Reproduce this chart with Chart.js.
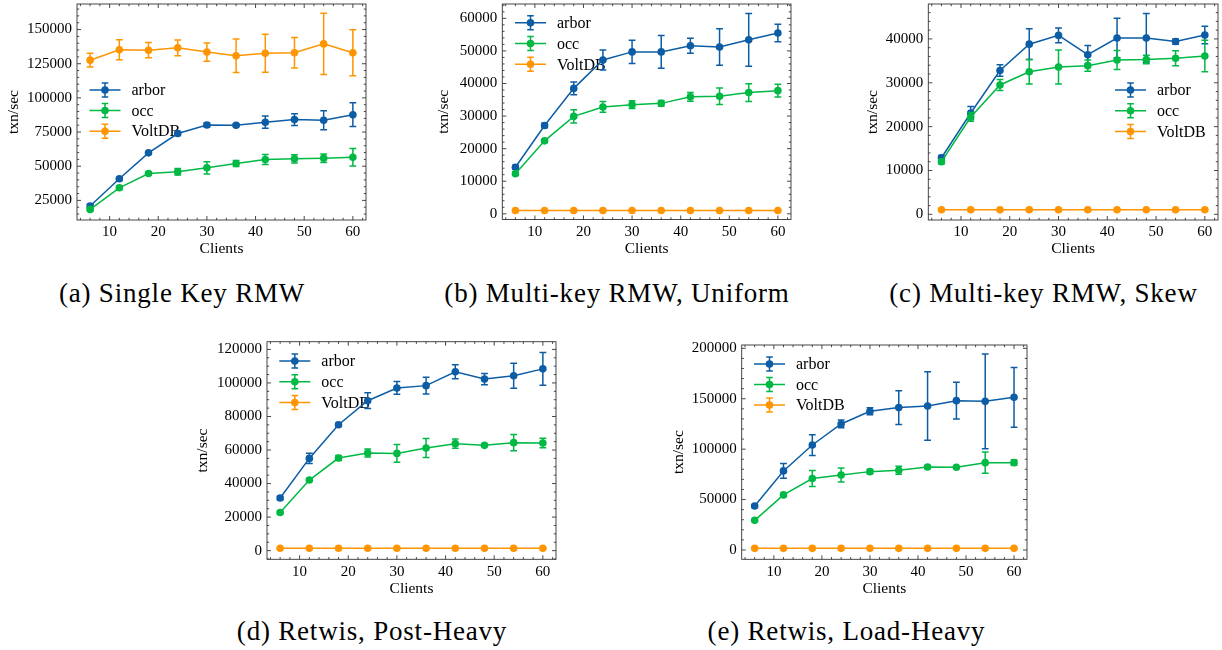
<!DOCTYPE html>
<html>
<head>
<meta charset="utf-8">
<script src="https://cdn.jsdelivr.net/npm/chart.js@4.4.1/dist/chart.umd.min.js"></script>
<style>
  body { margin: 0; background: #fff; width: 1222px; height: 650px; position: relative; overflow: hidden; font-family: 'Liberation Serif', serif; }
  canvas { position: absolute; }
  .cap { position: absolute; font-size: 27px; letter-spacing: 0.8px; white-space: nowrap; transform: translate(-50%, -50%); color: #000; }
</style>
</head>
<body>
<script>
const clients = [6, 12, 18, 24, 30, 36, 42, 48, 54, 60];
const xTicks = [10, 20, 30, 40, 50, 60];

// (a) Single Key RMW
const singleArbor = [20900, 40800, 59800, 73900, 80200, 80000, 82200, 84100, 83600, 87700];
const singleArborErr = [1500, 1200, 800, 1500, 1500, 1000, 4500, 4300, 7000, 8700];
const singleOcc = [18400, 34200, 44700, 45900, 48800, 52000, 54900, 55400, 55900, 56600];
const singleOccErr = [1200, 1200, 1000, 2400, 4400, 2200, 3600, 3000, 3100, 6400];
const singleVolt = [127600, 135200, 134900, 136600, 133500, 130800, 132700, 133000, 139500, 133000];
const singleVoltErr = [5000, 7300, 5600, 5800, 6600, 12200, 13900, 11200, 22400, 16800];
const singleTicks = [25000, 50000, 75000, 100000, 125000, 150000];

// (b) Multi-key RMW, Uniform
const uniformArbor = [14300, 27100, 38500, 47200, 49700, 49700, 51600, 51200, 53400, 55500];
const uniformArborErr = [600, 700, 1950, 3050, 3550, 5000, 2300, 5600, 8100, 2650];
const uniformOcc = [12300, 22400, 29900, 32800, 33500, 33900, 35900, 36100, 37200, 37800];
const uniformOccErr = [500, 500, 2050, 1650, 1200, 900, 1350, 2550, 2750, 1950];
const uniformVolt = [1000, 1000, 1000, 1000, 1000, 1000, 1000, 1000, 1000, 1000];
const uniformVoltErr = [50, 50, 50, 50, 50, 50, 50, 50, 50, 50];
const uniformTicks = [0, 10000, 20000, 30000, 40000, 50000, 60000];

// (c) Multi-key RMW, Skew
const skewArbor = [12900, 23100, 32800, 38800, 40800, 36400, 40200, 40200, 39400, 40900];
const skewArborErr = [500, 1500, 1300, 3500, 1700, 2100, 4500, 5600, 600, 2000];
const skewOcc = [12000, 22200, 29500, 32500, 33600, 33900, 35200, 35300, 35600, 36100];
const skewOccErr = [500, 1000, 1250, 2800, 3900, 1300, 2150, 950, 1700, 3600];
const skewVolt = [1050, 1050, 1050, 1050, 1050, 1050, 1050, 1050, 1050, 1050];
const skewVoltErr = [40, 40, 40, 40, 40, 40, 40, 40, 40, 40];
const skewTicks = [0, 10000, 20000, 30000, 40000];

// (d) Retwis, Post-Heavy
const postArbor = [31400, 55000, 75100, 89400, 97000, 98400, 106700, 102300, 104300, 108400];
const postArborErr = [1000, 3100, 1000, 4700, 3800, 5000, 4200, 3300, 7500, 9700];
const postOcc = [22700, 42100, 55200, 58200, 58000, 61200, 63800, 62800, 64400, 64200];
const postOccErr = [800, 900, 1500, 2400, 5300, 5600, 2700, 700, 4800, 2800];
const postVolt = [1400, 1400, 1400, 1400, 1400, 1400, 1400, 1400, 1400, 1400];
const postVoltErr = [60, 60, 60, 60, 60, 60, 60, 60, 60, 60];
const postTicks = [0, 20000, 40000, 60000, 80000, 100000, 120000];

// (e) Retwis, Load-Heavy
const loadArbor = [43600, 78400, 104100, 125000, 137500, 141200, 142800, 148100, 147400, 151400];
const loadArborErr = [1500, 7300, 10300, 3800, 3500, 16700, 34000, 18200, 46900, 29600];
const loadOcc = [29400, 54600, 70800, 74400, 77700, 79000, 82300, 82000, 86600, 86600];
const loadOccErr = [1000, 1500, 7900, 6900, 2000, 4000, 1500, 800, 10600, 2600];
const loadVolt = [1600, 1600, 1600, 1600, 1600, 1600, 1600, 1600, 1600, 1600];
const loadVoltErr = [80, 80, 80, 80, 80, 80, 80, 80, 80, 80];
const loadTicks = [0, 50000, 100000, 150000, 200000];

const NAMES = ['arbor', 'occ', 'VoltDB'];
const COLORS = ['#0C5DA5', '#00B945', '#FF9500'];
const FONT = "'Liberation Serif', 'Times New Roman', serif";

const panels = [
  { caption: '(a) Single Key RMW', capX: 182, capY: 293,
    L: 77, T: 3.3, R: 367.7, B: 220, yTitle: 14.3, xTitle: 248.3,
    yMin: 10650, yMax: 168700, yTicks: singleTicks, minor: 5, legend: [89.5, 90, 20.6],
    series: [[singleArbor, singleArborErr], [singleOcc, singleOccErr], [singleVolt, singleVoltErr]] },
  { caption: '(b) Multi-key RMW, Uniform', capX: 617, capY: 293,
    L: 502.3, T: 3.3, R: 792.7, B: 219.5, yTitle: 444.3, xTitle: 248.3,
    yMin: -1750, yMax: 64400, yTicks: uniformTicks, minor: 5, legend: [515, 22.7, 20.8],
    series: [[uniformArbor, uniformArborErr], [uniformOcc, uniformOccErr], [uniformVolt, uniformVoltErr]] },
  { caption: '(c) Multi-key RMW, Skew', capX: 1043.5, capY: 293,
    L: 928.3, T: 3.3, R: 1220, B: 220, yTitle: 873.3, xTitle: 248.3,
    yMin: -1290, yMax: 47960, yTicks: skewTicks, minor: 5, legend: [1115, 90, 20.8],
    series: [[skewArbor, skewArborErr], [skewOcc, skewOccErr], [skewVolt, skewVoltErr]] },
  { caption: '(d) Retwis, Post-Heavy', capX: 372, capY: 631,
    L: 267, T: 341.7, R: 557.7, B: 559.3, yTitle: 203.3, xTitle: 589,
    yMin: -5170, yMax: 124600, yTicks: postTicks, minor: 4, legend: [279.3, 361, 20.8],
    series: [[postArbor, postArborErr], [postOcc, postOccErr], [postVolt, postVoltErr]] },
  { caption: '(e) Retwis, Load-Heavy', capX: 846.5, capY: 631,
    L: 741.7, T: 345, R: 1029.3, B: 559.3, yTitle: 679.5, xTitle: 589,
    yMin: -9260, yMax: 203300, yTicks: loadTicks, minor: 5, legend: [754, 364, 20.5],
    series: [[loadArbor, loadArborErr], [loadOcc, loadOccErr], [loadVolt, loadVoltErr]] }
];

// error bars with caps, drawn per dataset
const errorBars = {
  id: 'errorBars',
  afterDatasetDraw(chart, args) {
    const ds = chart.data.datasets[args.index];
    const ys = chart.scales.y;
    const ctx = chart.ctx;
    ctx.save();
    ctx.strokeStyle = ds.borderColor;
    ctx.lineWidth = 1.5;
    args.meta.data.forEach((pt, i) => {
      const v = ds.data[i].y, e = ds.errors[i];
      const top = ys.getPixelForValue(v + e), bot = ys.getPixelForValue(v - e);
      ctx.beginPath();
      ctx.moveTo(pt.x, top); ctx.lineTo(pt.x, bot);
      ctx.moveTo(pt.x - 3.4, top); ctx.lineTo(pt.x + 3.4, top);
      ctx.moveTo(pt.x - 3.4, bot); ctx.lineTo(pt.x + 3.4, bot);
      ctx.stroke();
    });
    ctx.restore();
  }
};

// box frame with inward major/minor ticks on all sides
function minorValues(min, max, majors, ndiv) {
  const step = (majors[1] - majors[0]) / ndiv;
  const out = [];
  for (let v = Math.ceil(min / step) * step; v <= max; v += step) {
    if (!majors.some(m => Math.abs(m - v) < step / 10)) out.push(v);
  }
  return out;
}

const frame = {
  id: 'frame',
  afterDraw(chart, args, opts) {
    const { ctx, chartArea: a, scales: { x, y } } = chart;
    ctx.save();
    ctx.strokeStyle = '#333';
    ctx.lineWidth = 0.9;
    ctx.strokeRect(a.left, a.top, a.right - a.left, a.bottom - a.top);
    ctx.beginPath();
    const xt = (vals, len) => vals.forEach(v => {
      const px = x.getPixelForValue(v);
      ctx.moveTo(px, a.bottom); ctx.lineTo(px, a.bottom - len);
      ctx.moveTo(px, a.top); ctx.lineTo(px, a.top + len);
    });
    const yt = (vals, len) => vals.forEach(v => {
      const py = y.getPixelForValue(v);
      ctx.moveTo(a.left, py); ctx.lineTo(a.left + len, py);
      ctx.moveTo(a.right, py); ctx.lineTo(a.right - len, py);
    });
    xt(xTicks, 4);
    xt(minorValues(x.min, x.max, xTicks, 5), 2.2);
    yt(opts.yTicks, 4);
    yt(minorValues(y.min, y.max, opts.yTicks, opts.minor), 2.2);
    ctx.stroke();
    ctx.restore();
  }
};

// matplotlib-like legend: line + marker + error bar glyph, no frame
const errLegend = {
  id: 'errLegend',
  beforeDatasetsDraw(chart, args, opts) {
    const ctx = chart.ctx;
    ctx.save();
    chart.data.datasets.forEach((ds, k) => {
      const x0 = opts.x, yc = opts.y + k * opts.dy;
      ctx.strokeStyle = ds.borderColor;
      ctx.fillStyle = ds.borderColor;
      ctx.lineWidth = 1.5;
      ctx.beginPath();
      ctx.moveTo(x0, yc); ctx.lineTo(x0 + 31, yc);
      ctx.moveTo(x0 + 15.5, yc - 7); ctx.lineTo(x0 + 15.5, yc + 7);
      ctx.moveTo(x0 + 12.2, yc - 7); ctx.lineTo(x0 + 18.8, yc - 7);
      ctx.moveTo(x0 + 12.2, yc + 7); ctx.lineTo(x0 + 18.8, yc + 7);
      ctx.stroke();
      ctx.beginPath();
      ctx.arc(x0 + 15.5, yc, 3.8, 0, Math.PI * 2);
      ctx.fill();
      ctx.fillStyle = '#000';
      ctx.font = '16px ' + FONT;
      ctx.textBaseline = 'middle';
      ctx.textAlign = 'left';
      ctx.fillText(ds.label, x0 + 42, yc + 1);
    });
    ctx.restore();
  }
};

const noPad = s => { s.paddingTop = 0; s.paddingBottom = 0; s.paddingLeft = 0; s.paddingRight = 0; };

panels.forEach(p => {
  const left = Math.round(p.yTitle - 9.3);
  const padTop = Math.min(p.T, 10);
  const top = Math.round(p.T - padTop);
  const right = Math.round(p.R + 2);
  const bottom = Math.round(p.xTitle + 9.3);
  const yW = p.L - left;
  const xH = bottom - p.B;

  const canvas = document.createElement('canvas');
  canvas.width = right - left;
  canvas.height = bottom - top;
  canvas.style.left = left + 'px';
  canvas.style.top = top + 'px';
  document.body.appendChild(canvas);

  const cap = document.createElement('div');
  cap.className = 'cap';
  cap.textContent = p.caption;
  cap.style.left = p.capX + 'px';
  cap.style.top = p.capY + 'px';
  document.body.appendChild(cap);

  const tickFont = { family: FONT, size: 15 };
  const titleFont = { family: FONT, size: 15.5, lineHeight: 1.2 };

  new Chart(canvas, {
    type: 'line',
    data: {
      datasets: p.series.map(([vals, errs], k) => ({
        label: NAMES[k],
        data: clients.map((c, i) => ({ x: c, y: vals[i] })),
        errors: errs,
        borderColor: COLORS[k],
        backgroundColor: COLORS[k],
        pointBackgroundColor: COLORS[k],
        borderWidth: 1.5,
        pointRadius: 3.8,
        pointBorderWidth: 0,
        tension: 0,
        order: 3 - k
      }))
    },
    options: {
      responsive: false,
      animation: false,
      events: [],
      layout: { padding: { top: p.T - top, right: right - p.R, left: 0, bottom: 0 } },
      plugins: {
        legend: { display: false },
        tooltip: { enabled: false },
        frame: { yTicks: p.yTicks, minor: p.minor },
        errLegend: { x: p.legend[0] - left, y: p.legend[1] - top, dy: p.legend[2] }
      },
      scales: {
        x: {
          type: 'linear', min: 3.3, max: 62.7,
          afterBuildTicks: s => { s.ticks = xTicks.map(v => ({ value: v })); },
          afterFit: s => { s.height = xH; noPad(s); },
          grid: { display: false, drawTicks: false },
          border: { display: false },
          ticks: { font: tickFont, color: '#000', padding: 3.5, maxRotation: 0, callback: v => String(v) },
          title: { display: true, text: 'Clients', font: titleFont, color: '#000', padding: 0 }
        },
        y: {
          type: 'linear', min: p.yMin, max: p.yMax,
          afterBuildTicks: s => { s.ticks = p.yTicks.map(v => ({ value: v })); },
          afterFit: s => { s.width = yW; noPad(s); },
          grid: { display: false, drawTicks: false },
          border: { display: false },
          ticks: { font: tickFont, color: '#000', padding: 5, callback: v => String(v) },
          title: { display: true, text: 'txn/sec', font: titleFont, color: '#000', padding: 0 }
        }
      }
    },
    plugins: [errorBars, frame, errLegend]
  });
});
</script>
</body>
</html>
